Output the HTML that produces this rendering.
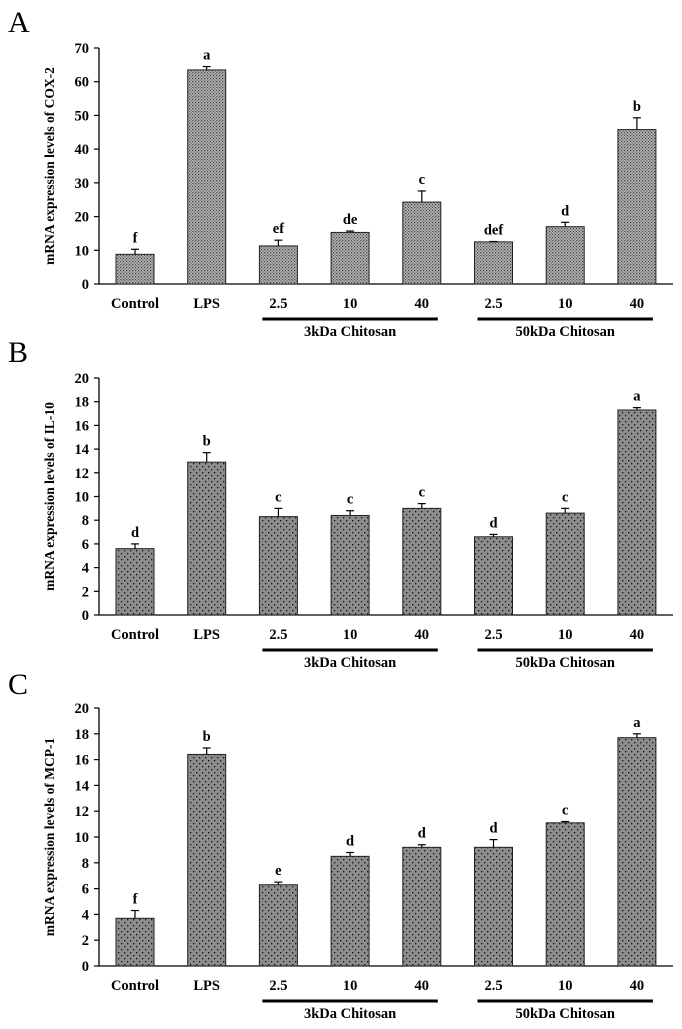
<!DOCTYPE html>
<html><head><meta charset="utf-8"><style>
body{margin:0;background:#fff;}
svg text{font-family:"Liberation Serif",serif;}
</style></head><body>
<svg id="fig" width="682" height="1024" xmlns="http://www.w3.org/2000/svg">
<defs>
<pattern id="hatchA" width="3" height="3" patternUnits="userSpaceOnUse"><rect width="3" height="3" fill="#b4b4b4"/><rect width="1.2" height="1.2" fill="#444"/><rect x="1.5" y="1.5" width="1.2" height="1.2" fill="#555"/></pattern>
<pattern id="dotB" width="6" height="6" patternUnits="userSpaceOnUse"><rect width="6" height="6" fill="#8c8c8c"/><rect x="1" y="1" width="1.3" height="1.3" fill="#111"/><rect x="4" y="4" width="1.3" height="1.3" fill="#111"/></pattern>
</defs>
</svg>
<script>
const categories=["Control","LPS","2.5","10","40","2.5","10","40"];
const valuesA=[8.8,63.5,11.3,15.3,24.3,12.5,17.0,45.8];
const errA=[1.5,1.0,1.7,0.4,3.3,0.1,1.3,3.5];
const lettersA=["f","a","ef","de","c","def","d","b"];
const ticksA=[0,10,20,30,40,50,60,70];
const valuesB=[5.6,12.9,8.3,8.4,9.0,6.6,8.6,17.3];
const errB=[0.4,0.8,0.7,0.4,0.4,0.2,0.4,0.2];
const lettersB=["d","b","c","c","c","d","c","a"];
const ticksB=[0,2,4,6,8,10,12,14,16,18,20];
const valuesC=[3.7,16.4,6.3,8.5,9.2,9.2,11.1,17.7];
const errC=[0.6,0.5,0.2,0.3,0.2,0.6,0.1,0.3];
const lettersC=["f","b","e","d","d","d","c","a"];
const ticksC=[0,2,4,6,8,10,12,14,16,18,20];

const svg=document.getElementById('fig');
const NS="http://www.w3.org/2000/svg";
function mk(tag,attrs,txt){const e=document.createElementNS(NS,tag);for(const k in attrs)e.setAttribute(k,attrs[k]);if(txt!==undefined)e.textContent=txt;svg.appendChild(e);return e;}

function panel(p){
  const {label,ly,y0,yTop,max,ticks,vals,errs,lets,fill,title,key}=p;
  const x0=99,xEnd=673;
  const ys=v=>y0-(v/max)*(y0-yTop);
  const xs=i=>135+i*71.7;
  let e=mk('text',{x:8,y:ly,'font-size':30},label);
  
  e=mk('line',{x1:x0,y1:yTop,x2:x0,y2:y0,stroke:'#000','stroke-width':1.3});
  
  e=mk('line',{x1:x0,y1:y0,x2:xEnd,y2:y0,stroke:'#000','stroke-width':1.3});
  
  ticks.forEach(t=>{
    mk('line',{x1:x0-5,y1:ys(t),x2:x0,y2:ys(t),stroke:'#000','stroke-width':1.2});
    e=mk('text',{x:x0-10,y:ys(t)+5,'font-size':14.5,'font-weight':'bold','text-anchor':'end'},t);
    
  });
  e=mk('text',{x:0,y:0,'font-size':13.5,'font-weight':'bold','text-anchor':'middle',transform:`translate(54,${(y0+yTop)/2}) rotate(-90)`},title);
  
  vals.forEach((v,i)=>{
    const cx=xs(i),w=38;
    e=mk('rect',{x:cx-w/2,y:ys(v),width:w,height:y0-ys(v),fill:fill,stroke:'#222','stroke-width':1});
    
    const top=ys(v+errs[i]);
    mk('line',{x1:cx,y1:ys(v),x2:cx,y2:top,stroke:'#000','stroke-width':1.2});
    mk('line',{x1:cx-4,y1:top,x2:cx+4,y2:top,stroke:'#000','stroke-width':1.2});
    e=mk('text',{x:cx,y:top-7,'font-size':14.5,'font-weight':'bold','text-anchor':'middle'},lets[i]);
    
    e=mk('text',{x:cx,y:y0+24,'font-size':14.5,'font-weight':'bold','text-anchor':'middle'},categories[i]);
    
  });
  [[2,4,'3kDa Chitosan'],[5,7,'50kDa Chitosan']].forEach(([a,b,t])=>{
    e=mk('line',{x1:xs(a)-16,y1:y0+35,x2:xs(b)+16,y2:y0+35,stroke:'#000','stroke-width':3});
    
    e=mk('text',{x:(xs(a)+xs(b))/2,y:y0+52,'font-size':14.5,'font-weight':'bold','text-anchor':'middle'},t);
    
  });
}
panel({key:'a',label:'A',ly:32,y0:284,yTop:48,max:70,ticks:ticksA,vals:valuesA,errs:errA,lets:lettersA,fill:'url(#hatchA)',title:'mRNA expression levels of COX-2'});
panel({key:'b',label:'B',ly:362,y0:615,yTop:378,max:20,ticks:ticksB,vals:valuesB,errs:errB,lets:lettersB,fill:'url(#dotB)',title:'mRNA expression levels of IL-10'});
panel({key:'c',label:'C',ly:694,y0:966,yTop:708,max:20,ticks:ticksC,vals:valuesC,errs:errC,lets:lettersC,fill:'url(#dotB)',title:'mRNA expression levels of MCP-1'});
</script>
</body></html>
